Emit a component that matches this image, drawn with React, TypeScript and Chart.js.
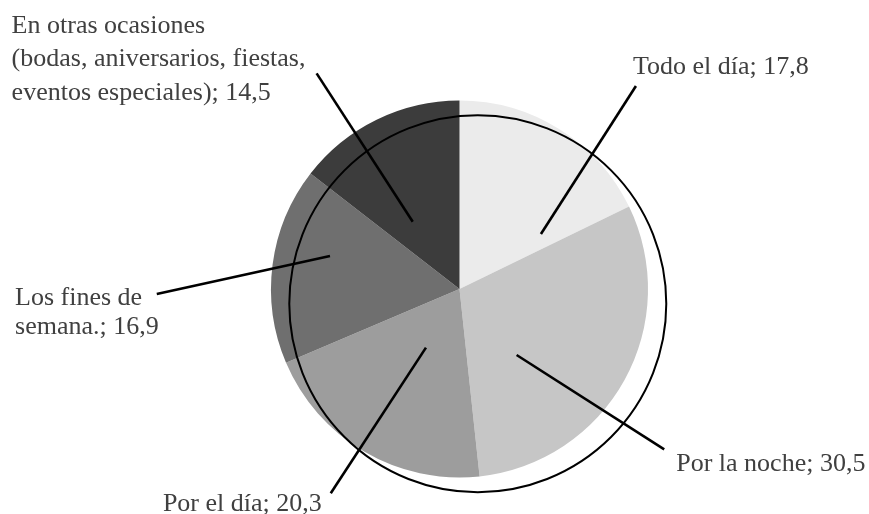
import React, { useEffect, useRef } from "react";
import { Chart, registerables } from "chart.js";

Chart.register(...registerables);

// Data
const categories = [
  "Todo el día",
  "Por la noche",
  "Por el día",
  "Los fines de\nsemana.",
  "En otras ocasiones\n(bodas, aniversarios, fiestas,\neventos especiales)",
];
const values = [17.8, 30.5, 20.3, 16.9, 14.5];
const sliceColors = ["#ebebeb", "#c6c6c6", "#9d9d9d", "#6f6f6f", "#3c3c3c"];

// Leader line geometry, as fractions of the pie radius from its centre
const leaderInner = [
  [0.432, -0.292],
  [0.303, 0.35],
  [-0.178, 0.311],
  [-0.687, -0.175],
  [-0.248, -0.357],
];
const leaderOuter = [
  [0.936, -1.077],
  [1.086, 0.851],
  [-0.683, 1.084],
  [-1.606, 0.027],
  [-0.758, -1.144],
];
// Text placement relative to the outer end of each leader (px)
const textAlign: CanvasTextAlign[] = ["left", "left", "right", "left", "left"];
const textDx = [-3, 12, -9, -141.7, -305];
const textDy = [-12, 22, 17.5, 11, -40.3];
const textLineHeight = [33, 33, 33, 29, 33.3];
const outlineOffset = [0.097, 0.078];

const FONT = '26px "Liberation Serif", "Times New Roman", serif';

const fmt = (v: number) => v.toString().replace(".", ",");

const annotPlugin = {
  id: "annot",
  afterDatasetsDraw(chart: any) {
    const ctx: CanvasRenderingContext2D = chart.ctx;
    const meta = chart.getDatasetMeta(0);
    const arc = meta.data[0];
    const { x, y, outerRadius: R } = arc.getProps(["x", "y", "outerRadius"], true);
    ctx.save();
    // offset outline circle
    ctx.beginPath();
    ctx.arc(x + R * outlineOffset[0], y + R * outlineOffset[1], R, 0, Math.PI * 2);
    ctx.lineWidth = 2;
    ctx.strokeStyle = "#000";
    ctx.stroke();
    // leaders and labels
    ctx.font = FONT;
    ctx.textBaseline = "alphabetic";
    categories.forEach((cat, i) => {
      const ix = x + R * leaderInner[i][0];
      const iy = y + R * leaderInner[i][1];
      const ox = x + R * leaderOuter[i][0];
      const oy = y + R * leaderOuter[i][1];
      ctx.beginPath();
      ctx.moveTo(ix, iy);
      ctx.lineTo(ox, oy);
      ctx.lineWidth = 2.6;
      ctx.strokeStyle = "#000";
      ctx.stroke();
      const lines = (cat + "; " + fmt(values[i])).split("\n");
      ctx.fillStyle = "#404040";
      ctx.textAlign = textAlign[i];
      lines.forEach((ln, k) => {
        ctx.fillText(ln, ox + textDx[i], oy + textDy[i] + k * textLineHeight[i]);
      });
    });
    ctx.restore();
  },
};

export default function App() {
  const ref = useRef<HTMLCanvasElement>(null);
  useEffect(() => {
    if (!ref.current) return;
    const chart = new Chart(ref.current, {
      type: "pie",
      data: {
        labels: categories,
        datasets: [
          {
            data: values,
            backgroundColor: sliceColors,
            borderWidth: 0,
          },
        ],
      },
      options: {
        responsive: false,
        devicePixelRatio: 1,
        animation: false,
        layout: { padding: { top: 100.5, bottom: 36.5, left: 50, right: 0 } },
        plugins: {
          legend: { display: false },
          tooltip: { enabled: false },
        },
      },
      plugins: [annotPlugin],
    });
    return () => chart.destroy();
  }, []);
  return (
    <div style={{ position: "absolute", left: 0, top: 0, width: 869, height: 514, background: "#fff" }}>
      <canvas ref={ref} width={869} height={514} style={{ display: "block" }} />
    </div>
  );
}
